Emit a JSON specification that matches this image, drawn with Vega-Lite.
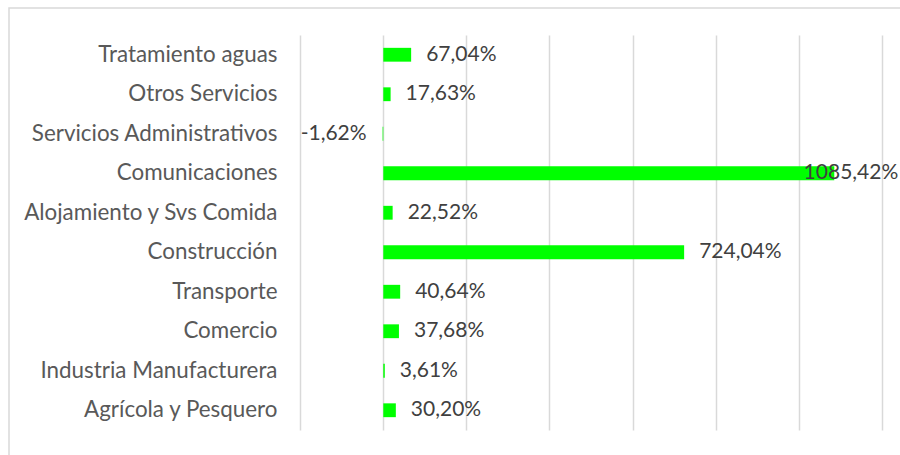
{
  "$schema": "https://vega.github.io/schema/vega-lite/v6.json",
  "autosize": "none",
  "width": 911,
  "height": 467,
  "padding": {"left": 9, "top": 8, "right": -20, "bottom": -20},
  "background": "white",
  "config": {
    "locale": {"number": {"decimal": ",", "thousands": ".", "grouping": [3], "currency": ["", " €"], "minus": "-", "percent": "%"}},
    "view": {"stroke": "#d9d9d9", "strokeWidth": 1.5},
    "font": "Lato",
    "text": {"font": "Lato", "fontSize": 21, "color": "#404040"}
  },
  "data": {
    "values": [
      {"sector": "Tratamiento aguas", "crecimiento": 0.6704},
      {"sector": "Otros Servicios", "crecimiento": 0.1763},
      {"sector": "Servicios Administrativos", "crecimiento": -0.0162},
      {"sector": "Comunicaciones", "crecimiento": 10.8542},
      {"sector": "Alojamiento y Svs Comida", "crecimiento": 0.2252},
      {"sector": "Construcción", "crecimiento": 7.2404},
      {"sector": "Transporte", "crecimiento": 0.4064},
      {"sector": "Comercio", "crecimiento": 0.3768},
      {"sector": "Industria Manufacturera", "crecimiento": 0.0361},
      {"sector": "Agrícola y Pesquero", "crecimiento": 0.3020}
    ]
  },
  "encoding": {
    "y": {
      "field": "sector",
      "type": "nominal",
      "sort": null,
      "scale": {"range": [27, 422], "paddingInner": 0.65, "paddingOuter": 0.325},
      "axis": {
        "title": null,
        "domain": false,
        "ticks": false,
        "tickSize": 0,
        "labelPadding": -268,
        "labelAlign": "right",
        "labelFont": "Lato",
        "labelFontSize": 22.4,
        "labelColor": "#595959",
        "labelLimit": 400
      }
    },
    "x": {
      "field": "crecimiento",
      "type": "quantitative",
      "scale": {"domain": [-9.008, 12.917], "nice": false, "zero": false},
      "axis": {
        "title": null,
        "orient": "top",
        "labels": false,
        "ticks": false,
        "domain": false,
        "grid": true,
        "gridColor": "#d9d9d9",
        "gridWidth": 1.5,
        "values": [-2, 0, 2, 4, 6, 8, 10, 12]
      }
    }
  },
  "layer": [
    {"mark": {"type": "bar", "color": "#00ff00"}},
    {
      "transform": [{"filter": "datum.crecimiento >= 0 && datum.crecimiento < 10"}],
      "mark": {"type": "text", "align": "left", "baseline": "middle", "dx": 15, "fontSize": 21, "color": "#404040"},
      "encoding": {"text": {"field": "crecimiento", "type": "quantitative", "format": ".2%"}}
    },
    {
      "transform": [{"filter": "datum.crecimiento < 0"}],
      "mark": {"type": "text", "align": "right", "baseline": "middle", "dx": -16, "fontSize": 21, "color": "#404040"},
      "encoding": {"text": {"field": "crecimiento", "type": "quantitative", "format": ".2%"}}
    },
    {
      "transform": [{"filter": "datum.crecimiento >= 10"}],
      "mark": {"type": "text", "align": "right", "baseline": "middle", "dx": 64, "fontSize": 21, "color": "#404040"},
      "encoding": {"text": {"field": "crecimiento", "type": "quantitative", "format": ".2%"}}
    }
  ]
}
